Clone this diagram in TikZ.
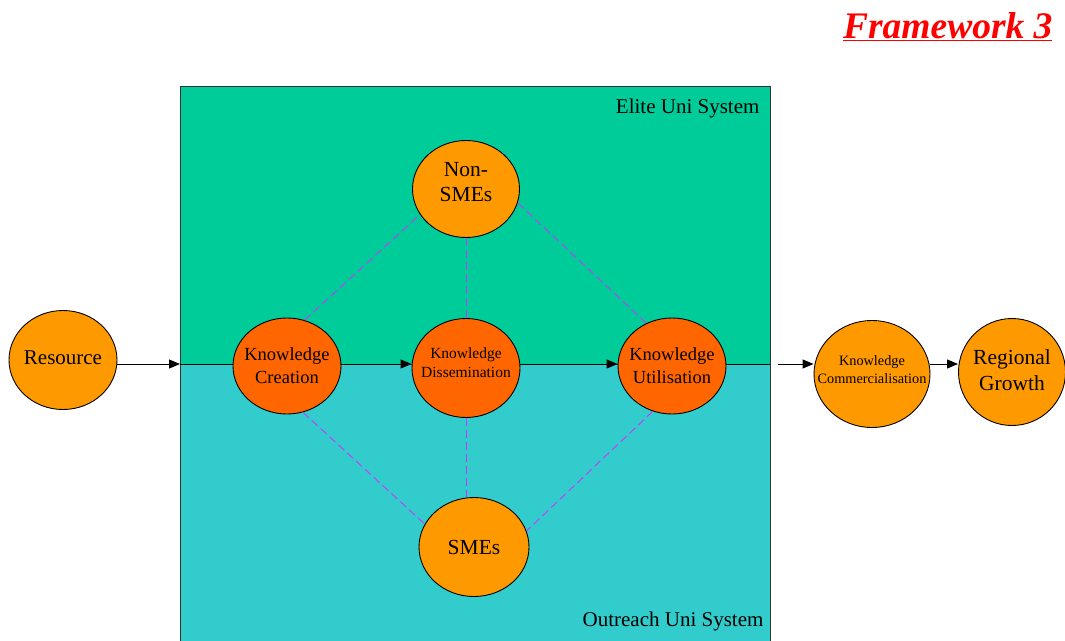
\documentclass[tikz,border=0pt]{standalone}
\usepackage{fontspec}
\setmainfont{Liberation Serif}
\usetikzlibrary{shapes.geometric,arrows.meta}
\definecolor{elite}{HTML}{00CC99}
\definecolor{outreach}{HTML}{33CCCC}
\definecolor{lightor}{HTML}{FF9900}
\definecolor{darkor}{HTML}{FF6600}
\definecolor{dashmag}{HTML}{CC33FF}
\definecolor{titlered}{HTML}{FF0000}
\tikzset{
  blob/.style={ellipse, draw=black, line width=0.9pt, inner sep=0pt},
  lightblob/.style={blob, fill=lightor},
  darkblob/.style={blob, fill=darkor},
  blobtext/.style={align=center, text=black, inner sep=0pt},
  flow/.style={line width=1pt, -{Triangle[length=11pt,width=9pt]}},
  plainflow/.style={line width=1pt},
  link/.style={draw=dashmag, line width=0.9pt, dash pattern=on 8pt off 4pt},
  region/.style={draw=black!80, line width=0.9pt},
}
\newcommand{\fsz}[2]{\fontsize{#1}{#2}\selectfont}
\begin{document}
\begin{tikzpicture}[x=1pt,y=-1pt]
\useasboundingbox (0,0) rectangle (1065,640);
% regions
\draw[region, fill=elite] (180,86) rectangle (770,364);
\draw[region, fill=outreach] (180,364) rectangle (770,642);
\node[anchor=base east, font=\fsz{21}{24}] (elitelbl) at (763,113) {Elite Uni System};
\node[anchor=base east, font=\fsz{21}{24}] (outlbl) at (767,626) {Outreach Uni System};
% title
\node[anchor=base east, text=titlered, font=\bfseries\itshape\fsz{37.5}{40}] (title) at (1056,38) {\underline{Framework 3}};
% nodes
\node[lightblob, minimum width=108, minimum height=99,
  label={[blobtext, font=\fsz{21}{24}, yshift=2pt]center:Resource}] (res) at (63,360) {};
\node[darkblob, minimum width=108, minimum height=96,
  label={[blobtext, font=\fsz{18.5}{23}]center:{Knowledge\\Creation}}] (kc) at (287,366) {};
\node[darkblob, minimum width=108, minimum height=99,
  label={[blobtext, font=\fsz{15.5}{19}, yshift=5pt]center:{Knowledge\\Dissemination}}] (kd) at (466,368) {};
\node[darkblob, minimum width=108, minimum height=96,
  label={[blobtext, font=\fsz{18.5}{23}]center:{Knowledge\\Utilisation}}] (ku) at (672,366) {};
\node[lightblob, minimum width=107, minimum height=97,
  label={[blobtext, font=\fsz{21.5}{25}, yshift=7pt]center:{Non-\\SMEs}}] (non) at (466,189) {};
\node[lightblob, minimum width=110, minimum height=99,
  label={[blobtext, font=\fsz{21.5}{25}]center:SMEs}] (sme) at (474,547) {};
\node[lightblob, minimum width=116, minimum height=107,
  label={[blobtext, font=\fsz{14.3}{18}, yshift=4pt]center:{Knowledge\\Commercialisation}}] (kcom) at (872,374) {};
\node[lightblob, minimum width=107, minimum height=107,
  label={[blobtext, font=\fsz{21.5}{26}, yshift=2pt]center:{Regional\\Growth}}] (rg) at (1012,372) {};
% connectors
\coordinate (boxin) at (180,364);
\coordinate (boxout) at (770,364);
\coordinate (outstart) at (778,364);
\draw[flow] (res.east |- boxin) -- (boxin);
\draw[plainflow] (boxin) -- (kc.west |- boxin);
\draw[flow] (kc.east |- boxin) -- (kd.west |- boxin);
\draw[flow] (kd.east |- boxin) -- (ku.west |- boxin);
\draw[plainflow] (ku.east |- boxin) -- (boxout);
\draw[flow] (outstart) -- (kcom.west |- outstart);
\draw[flow] (kcom.east |- outstart) -- (rg.west |- outstart);
% dashed links
\draw[link] (kc.69) -- (non.209);
\draw[link] (non.-15) -- (ku.121);
\draw[link] (non.south) -- (kd.north);
\draw[link] (kc.-71) -- (sme.155);
\draw[link] (ku.-113) -- (sme.17);
\draw[link] (kd.south) -- (sme.north -| kd.south);
\end{tikzpicture}
\end{document}
